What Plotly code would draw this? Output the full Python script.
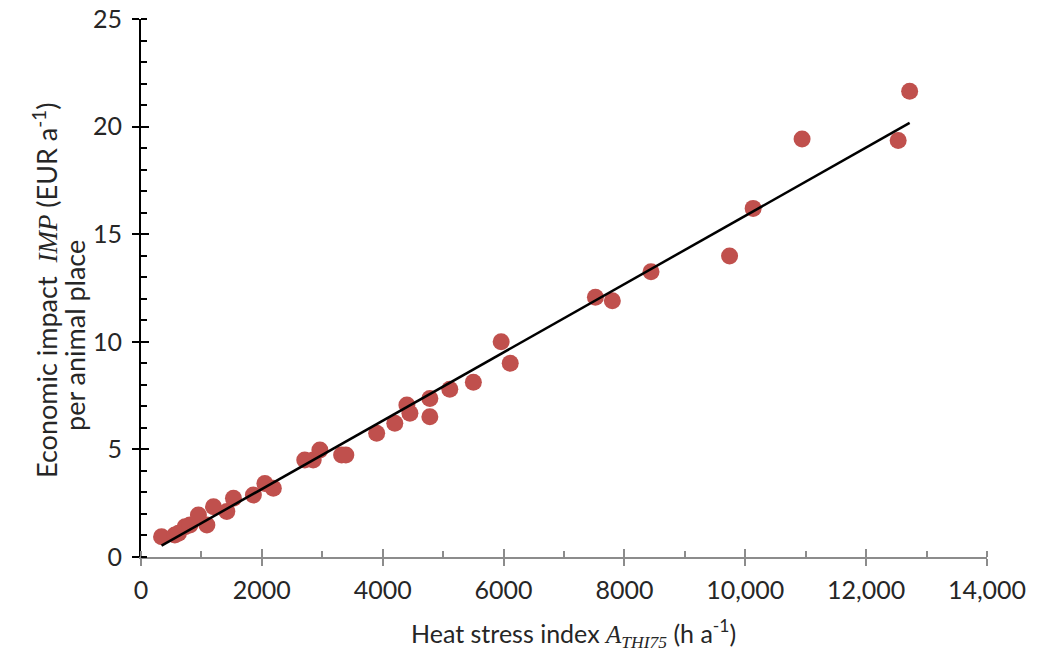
import plotly.graph_objects as go

# Heat stress index A_THI75 (h a^-1)
heat_stress = [340, 560, 620, 730, 810, 950, 1090, 1200, 1420, 1530, 1860, 2050, 2190,
               2710, 2850, 2960, 3320, 3390, 3900, 4200, 4400, 4450, 4780, 4780, 5110,
               5500, 5960, 6110, 7520, 7800, 8440, 9740, 10130, 10940, 12530, 12720]
# Economic impact IMP (EUR a^-1) per animal place
impact = [0.94, 1.02, 1.10, 1.41, 1.49, 1.95, 1.49, 2.34, 2.11, 2.73, 2.88, 3.42, 3.19,
          4.51, 4.51, 4.97, 4.74, 4.74, 5.75, 6.21, 7.06, 6.68, 6.52, 7.37, 7.79,
          8.12, 10.0, 9.0, 12.07, 11.91, 13.26, 13.99, 16.2, 19.42, 19.35, 21.64]

# linear trend
fit_slope = 0.001587
fit_intercept = -0.014

x_range = [0, 14000]
y_range = [0, 25]
x_tickvals = [0, 2000, 4000, 6000, 8000, 10000, 12000, 14000]
x_ticktext = ["0", "2000", "4000", "6000", "8000", "10,000", "12,000", "14,000"]
y_tickvals = [0, 5, 10, 15, 20, 25]

x_title = "Heat stress index <span style=\"font-family:Liberation Serif, DejaVu Serif, serif\"><i>A<sub>THI75</sub></i></span> (h a<sup>-1</sup>)"
y_title_1 = "Economic impact&nbsp; <span style=\"font-family:Liberation Serif, DejaVu Serif, serif\"><i>IMP</i></span> (EUR a<sup>-1</sup>)"
y_title_2 = "per animal place"

line_x = [min(heat_stress), max(heat_stress)]
line_y = [fit_slope * v + fit_intercept for v in line_x]

FONT = "Lato, 'Open Sans', sans-serif"
TXT = "#262626"
FS = 25
FS_Y = 27
XGRAY = "#8C8C8C"

fig = go.Figure()
fig.add_trace(go.Scatter(
    x=heat_stress, y=impact, mode="markers",
    marker=dict(size=17, color="#C0504D", line=dict(width=0)),
    showlegend=False,
))
fig.add_trace(go.Scatter(
    x=line_x, y=line_y, mode="lines",
    line=dict(color="black", width=2.5),
    showlegend=False,
))
# invisible trace so the overlay axes (inner half of crossing ticks) are drawn
fig.add_trace(go.Scatter(x=[None], y=[None], xaxis="x2", yaxis="y2",
                         showlegend=False, hoverinfo="skip"))

fig.update_layout(
    width=1038, height=650,
    margin=dict(l=133, r=59, t=11, b=101),
    plot_bgcolor="white", paper_bgcolor="white",
    font=dict(family=FONT, size=FS, color=TXT),
    xaxis=dict(
        range=x_range, tickvals=x_tickvals, ticktext=x_ticktext,
        showgrid=False, zeroline=False, automargin=False,
        showline=True, linecolor=XGRAY, linewidth=2,
        ticks="outside", ticklen=7, tickwidth=2, tickcolor=XGRAY,
        ticklabelstandoff=3, ticklabeloverflow="allow",
        minor=dict(dtick=1000, ticks="inside", ticklen=6, tickwidth=2, tickcolor=XGRAY, showgrid=False),
        tickfont=dict(size=FS, color=TXT),
    ),
    yaxis=dict(
        range=y_range, tickvals=y_tickvals,
        showgrid=False, zeroline=False, automargin=False,
        showline=True, linecolor="black", linewidth=2,
        ticks="outside", ticklen=7, tickwidth=2, tickcolor="black",
        ticklabelstandoff=5, ticklabeloverflow="allow",
        minor=dict(dtick=1, ticks="inside", ticklen=6, tickwidth=2, tickcolor="black", showgrid=False),
        tickfont=dict(size=FS, color=TXT),
    ),
    xaxis2=dict(
        overlaying="x", anchor="y", side="bottom", range=x_range,
        tickvals=x_tickvals, showticklabels=False, automargin=False,
        ticks="inside", ticklen=8, tickwidth=2, tickcolor=XGRAY,
        showline=False, showgrid=False, zeroline=False,
    ),
    yaxis2=dict(
        overlaying="y", anchor="x", side="left", range=y_range,
        tickvals=y_tickvals, showticklabels=False, automargin=False,
        ticks="inside", ticklen=8, tickwidth=2, tickcolor="black",
        showline=False, showgrid=False, zeroline=False,
    ),
    annotations=[
        dict(text=x_title, xref="paper", yref="paper", x=0.5118, y=-0.1413,
             xanchor="center", yanchor="middle", showarrow=False,
             font=dict(size=FS, color=TXT)),
        dict(text=y_title_1, xref="paper", yref="paper", x=-0.1135, y=0.4963,
             xanchor="center", yanchor="middle", showarrow=False, textangle=-90,
             font=dict(size=FS_Y, color=TXT)),
        dict(text=y_title_2, xref="paper", yref="paper", x=-0.078, y=0.4108,
             xanchor="center", yanchor="middle", showarrow=False, textangle=-90,
             font=dict(size=FS_Y, color=TXT)),
    ],
)

fig.write_html("out.html")
